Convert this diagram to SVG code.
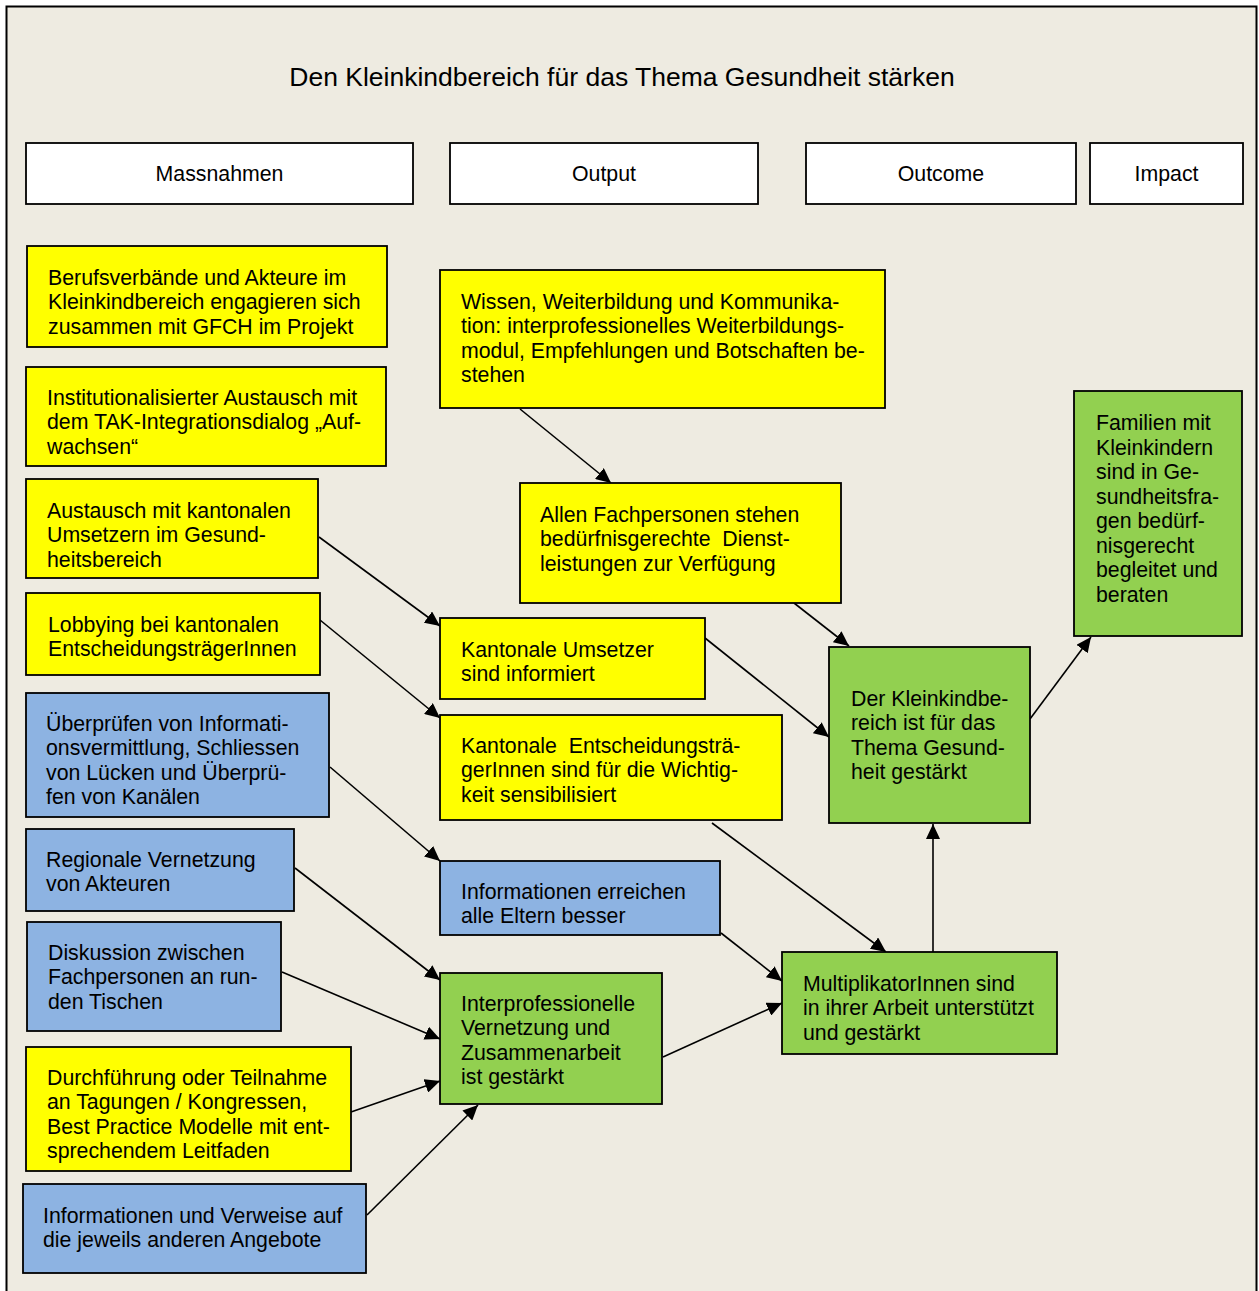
<svg xmlns="http://www.w3.org/2000/svg" width="1259" height="1291" viewBox="0 0 1259 1291">
<defs>
<marker id="ah" markerUnits="userSpaceOnUse" markerWidth="15" markerHeight="14" viewBox="0 0 15 14" refX="15" refY="7" orient="auto">
<path d="M0,0 L15,7 L0,14 z" fill="#000"/>
</marker>
<style>
text{font-family:"Liberation Sans",Arial,sans-serif;font-size:21.3px;fill:#000}
.hd{text-anchor:middle}
.title{font-size:26.5px;text-anchor:middle}
rect.b{stroke:#000;stroke-width:1.8}
.w{fill:#fff}
.y{fill:#ffff00}
.g{fill:#92d050}
.bl{fill:#8db3e2}
.c line{stroke:#000;stroke-width:1.6;marker-end:url(#ah)}
</style>
</defs>
<rect x="0" y="0" width="1259" height="1291" fill="#fff"/>
<rect x="6.5" y="6.5" width="1250" height="1300" fill="#eeebe1" stroke="#000" stroke-width="2"/>
<text class="title" x="622" y="86">Den Kleinkindbereich für das Thema Gesundheit stärken</text>

<g id="h-massnahmen"><rect class="b w" x="26" y="143" width="387" height="61"/><text class="hd" x="219.5" y="181">Massnahmen</text></g>
<g id="h-output"><rect class="b w" x="450" y="143" width="308" height="61"/><text class="hd" x="604" y="181">Output</text></g>
<g id="h-outcome"><rect class="b w" x="806" y="143" width="270" height="61"/><text class="hd" x="941" y="181">Outcome</text></g>
<g id="h-impact"><rect class="b w" x="1090" y="143" width="153" height="61"/><text class="hd" x="1166.5" y="181">Impact</text></g>

<g id="connectors" class="c">
<line x1="520" y1="409" x2="611" y2="483"/>
<line x1="319" y1="537" x2="440" y2="626"/>
<line x1="320" y1="620" x2="440" y2="718"/>
<line x1="330" y1="767" x2="440" y2="861"/>
<line x1="295" y1="868" x2="440" y2="980"/>
<line x1="282" y1="972" x2="440" y2="1039"/>
<line x1="351" y1="1112" x2="440" y2="1081"/>
<line x1="367" y1="1215" x2="478" y2="1105"/>
<line x1="794" y1="603" x2="849" y2="646"/>
<line x1="705" y1="638" x2="829" y2="737"/>
<line x1="712" y1="823" x2="886" y2="952"/>
<line x1="721" y1="933" x2="782" y2="981"/>
<line x1="663" y1="1057" x2="782" y2="1003"/>
<line x1="933" y1="952" x2="933" y2="824"/>
<line x1="1030" y1="719" x2="1091" y2="637"/>
</g>

<g id="n1"><rect class="b y" x="27" y="246" width="360" height="101"/>
<text x="48" y="285">Berufsverbände und Akteure im</text><text x="48" y="309.4">Kleinkindbereich engagieren sich</text><text x="48" y="333.8">zusammen mit GFCH im Projekt</text></g>
<g id="n2"><rect class="b y" x="26" y="367" width="360" height="99"/>
<text x="47" y="405">Institutionalisierter Austausch mit</text><text x="47" y="429.4">dem TAK-Integrationsdialog „Auf-</text><text x="47" y="453.8">wachsen“</text></g>
<g id="n3"><rect class="b y" x="26" y="479" width="292" height="99"/>
<text x="47" y="518">Austausch mit kantonalen</text><text x="47" y="542.4">Umsetzern im Gesund-</text><text x="47" y="566.8">heitsbereich</text></g>
<g id="n4"><rect class="b y" x="26" y="593" width="294" height="82"/>
<text x="48" y="632">Lobbying bei kantonalen</text><text x="48" y="656.4">EntscheidungsträgerInnen</text></g>
<g id="n5"><rect class="b bl" x="26" y="693" width="303" height="124"/>
<text x="46" y="731">Überprüfen von Informati-</text><text x="46" y="755.4">onsvermittlung, Schliessen</text><text x="46" y="779.8">von Lücken und Überprü-</text><text x="46" y="804.2">fen von Kanälen</text></g>
<g id="n6"><rect class="b bl" x="26" y="829" width="268" height="82"/>
<text x="46" y="867">Regionale Vernetzung</text><text x="46" y="891.4">von Akteuren</text></g>
<g id="n7"><rect class="b bl" x="27" y="922" width="254" height="109"/>
<text x="48" y="960">Diskussion zwischen</text><text x="48" y="984.4">Fachpersonen an run-</text><text x="48" y="1008.8">den Tischen</text></g>
<g id="n8"><rect class="b y" x="26" y="1047" width="325" height="124"/>
<text x="47" y="1085">Durchführung oder Teilnahme</text><text x="47" y="1109.4">an Tagungen / Kongressen,</text><text x="47" y="1133.8">Best Practice Modelle mit ent-</text><text x="47" y="1158.2">sprechendem Leitfaden</text></g>
<g id="n9"><rect class="b bl" x="23" y="1184" width="343" height="89"/>
<text x="43" y="1223">Informationen und Verweise auf</text><text x="43" y="1247.4">die jeweils anderen Angebote</text></g>

<g id="n10"><rect class="b y" x="440" y="270" width="445" height="138"/>
<text x="461" y="309">Wissen, Weiterbildung und Kommunika-</text><text x="461" y="333.4">tion: interprofessionelles Weiterbildungs-</text><text x="461" y="357.8">modul, Empfehlungen und Botschaften be-</text><text x="461" y="382.2">stehen</text></g>
<g id="n11"><rect class="b y" x="520" y="483" width="321" height="120"/>
<text x="540" y="522">Allen Fachpersonen stehen</text><text x="540" y="546.4" xml:space="preserve">bedürfnisgerechte  Dienst-</text><text x="540" y="570.8">leistungen zur Verfügung</text></g>
<g id="n12"><rect class="b y" x="440" y="618" width="265" height="81"/>
<text x="461" y="657">Kantonale Umsetzer</text><text x="461" y="681.4">sind informiert</text></g>
<g id="n13"><rect class="b y" x="440" y="715" width="342" height="105"/>
<text x="461" y="753" xml:space="preserve">Kantonale  Entscheidungsträ-</text><text x="461" y="777.4">gerInnen sind für die Wichtig-</text><text x="461" y="801.8">keit sensibilisiert</text></g>
<g id="n14"><rect class="b bl" x="440" y="861" width="280" height="74"/>
<text x="461" y="899">Informationen erreichen</text><text x="461" y="923.4">alle Eltern besser</text></g>
<g id="n15"><rect class="b g" x="440" y="973" width="222" height="131"/>
<text x="461" y="1011">Interprofessionelle</text><text x="461" y="1035.4">Vernetzung und</text><text x="461" y="1059.8">Zusammenarbeit</text><text x="461" y="1084.2">ist gestärkt</text></g>

<g id="n16"><rect class="b g" x="829" y="647" width="201" height="176"/>
<text x="851" y="706">Der Kleinkindbe-</text><text x="851" y="730.4">reich ist für das</text><text x="851" y="754.8">Thema Gesund-</text><text x="851" y="779.2">heit gestärkt</text></g>
<g id="n17"><rect class="b g" x="782" y="952" width="275" height="102"/>
<text x="803" y="991">MultiplikatorInnen sind</text><text x="803" y="1015.4">in ihrer Arbeit unterstützt</text><text x="803" y="1039.8">und gestärkt</text></g>
<g id="n18"><rect class="b g" x="1074" y="391" width="168" height="245"/>
<text x="1096" y="430">Familien mit</text><text x="1096" y="454.5">Kleinkindern</text><text x="1096" y="479">sind in Ge-</text><text x="1096" y="503.5">sundheitsfra-</text><text x="1096" y="528">gen bedürf-</text><text x="1096" y="552.5">nisgerecht</text><text x="1096" y="577">begleitet und</text><text x="1096" y="601.5">beraten</text></g>
</svg>
